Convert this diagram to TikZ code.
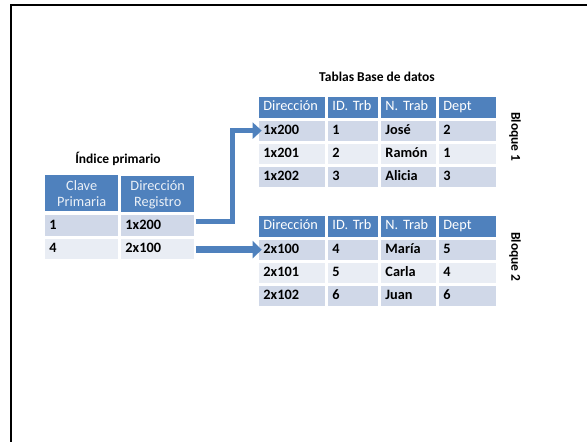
\documentclass[tikz,border=0pt]{standalone}
\usepackage{fontspec}
\setmainfont{Carlito}
\usetikzlibrary{matrix,arrows.meta,calc}
\definecolor{hdr}{HTML}{4F81BD}
\definecolor{rowA}{HTML}{D0D8E8}
\definecolor{rowB}{HTML}{E9EDF4}
\begin{document}
\begin{tikzpicture}[x=1pt,y=-1pt,
  title/.style={font=\bfseries\fontsize{13.5}{16}\selectfont, inner sep=0pt},
  tbl/.style={matrix of nodes, inner sep=0pt, column sep=0pt, row sep=0pt, anchor=north west,
    nodes={rectangle, draw=white, line width=1.5pt, inner xsep=5pt, inner ysep=0pt,
      minimum height=21.8pt, text height=10pt, text depth=3pt, align=left,
      font=\bfseries\fontsize{14.3}{16}\selectfont, fill=rowA}},
  hdrrow/.style={nodes={fill=hdr, text=white, font=\fontsize{14.3}{16}\selectfont}},
  pointer/.style={draw=hdr, line join=miter}
]
\useasboundingbox (0,0) rectangle (587,442);
\fill[white] (0,0) rectangle (587,442);

% page frame
\draw[line width=2pt] (11,442) -- (11,5) -- (587,5);

% titles
\node[title] (ttl) at (377,77) {Tablas Base de datos};
\node[title] (ititle) at (118,159) {Índice primario};

% block 1 table
\matrix (t) at (257.5,95.5) [tbl,
  row 1/.style={hdrrow}, row 3/.style={nodes={fill=rowB}},
  column 1/.style={nodes={text width=57.5pt}},
  column 2/.style={nodes={text width=41.5pt}},
  column 3/.style={nodes={text width=46.5pt}},
  column 4/.style={nodes={text width=48.5pt}}] {
  Dirección & ID. Trb & N. Trab & Dept \\
  1x200 & 1 & José & 2 \\
  1x201 & 2 & Ramón & 1 \\
  1x202 & 3 & Alicia & 3 \\
};

% block 2 table
\matrix (u) at (257.5,214.5) [tbl,
  row 1/.style={hdrrow}, row 3/.style={nodes={fill=rowB}},
  column 1/.style={nodes={text width=57.5pt}},
  column 2/.style={nodes={text width=41.5pt}},
  column 3/.style={nodes={text width=46.5pt}},
  column 4/.style={nodes={text width=48.5pt}}] {
  Dirección & ID. Trb & N. Trab & Dept \\
  2x100 & 4 & María & 5 \\
  2x101 & 5 & Carla & 4 \\
  2x102 & 6 & Juan & 6 \\
};

% primary index table
\matrix (i) at (43.5,173.5) [tbl,
  row 1/.style={hdrrow, nodes={minimum height=37.5pt, text height=, text depth=, align=center, text=white!88!hdr}},
  row 3/.style={nodes={fill=rowB}},
  column 1/.style={nodes={text width=64.5pt}},
  column 2/.style={nodes={text width=64.5pt}}] {
  {Clave\\Primaria} & {Dirección\\Registro} \\
  1 & 1x200 \\
  4 & 2x100 \\
};

% block labels
\node[title, rotate=-90] (b1) at (515,137) {Bloque 1};
\node[title, rotate=-90] (b2) at (515,257) {Bloque 2};

% pointers from the index to the records
\draw[pointer, line width=5pt, -{Triangle[width=16pt,length=9pt]}]
  ($(i-2-2.east)+(0,-4)$) -- ++(37,0) |- ($(t-2-1.west)+(4,0)$);
\draw[pointer, line width=7pt, -{Triangle[width=17pt,length=9pt]}]
  (i-3-2.east |- u-2-1.west) -- ($(u-2-1.west)+(4,0)$);
\end{tikzpicture}
\end{document}
